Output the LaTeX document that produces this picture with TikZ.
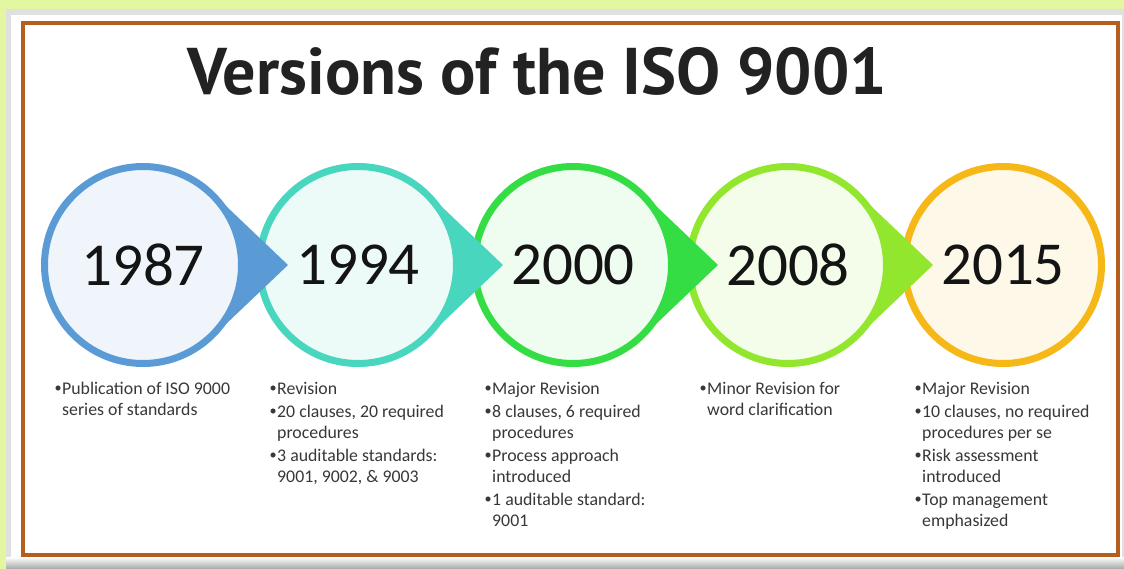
\documentclass[tikz,border=0pt]{standalone}
\usepackage{fontspec}
\setmainfont{Carlito}
\newfontfamily\titlefont{PT Sans}
\usepackage{tikz}
\usepackage{xcolor}
\usetikzlibrary{calc}
\definecolor{bgyellow}{HTML}{E3F6A2}
\definecolor{framebrown}{HTML}{B45F1E}
\definecolor{titlegray}{HTML}{222222}
\definecolor{highlightcolora}{HTML}{5B9BD5}
\definecolor{highlightcolorb}{HTML}{48D6BE}
\definecolor{highlightcolorc}{HTML}{34DD44}
\definecolor{highlightcolord}{HTML}{92E72E}
\definecolor{highlightcolore}{HTML}{F5B817}
\colorlet{washedcolora}{highlightcolora!10!white}
\colorlet{washedcolorb}{highlightcolorb!10!white}
\colorlet{washedcolorc}{highlightcolorc!8!white}
\colorlet{washedcolord}{highlightcolord!10!white}
\colorlet{washedcolore}{highlightcolore!10!white}
\tikzstyle{yearcircle} = [
    circle,
    line width=7pt,
    minimum size=197pt,
    inner sep=0pt,
    text=black!92,
    font=\fontsize{61}{61}\selectfont
    ]
\tikzstyle{notes} = [
    anchor=base west,
    inner sep=0pt,
    text=black!78,
    font=\fontsize{17.8}{21}\selectfont
    ]
\newcommand{\isoitem}[1]{\par\noindent\hangindent=8pt\hangafter=1%
    \makebox[8pt][l]{\hspace{0.5pt}\raisebox{1.3pt}{\scalebox{0.8}{\textbullet}}}#1\par\vspace{2pt}}

\begin{document}
\begin{tikzpicture}[x=1pt,y=-1pt]
\useasboundingbox (0,0) rectangle (1124,569);
% page and frame
\fill[bgyellow] (0,0) rectangle (1124,569);
\fill[black!12] (6,9) rectangle (1124,569);
\fill[white] (11,15) rectangle (1122,557);
\shade[top color=white, bottom color=black!35] (6,557) rectangle (1124,569);
\draw[framebrown, line width=4pt] (23,23) rectangle (1118,554.5);

\node[titlegray, font=\titlefont\bfseries\fontsize{66}{66}\selectfont,
    anchor=base] (title) at (537.5,95) {Versions of the ISO 9001};

% circles, right to left so each pointer lies over the next circle
\node[yearcircle, draw=highlightcolore, fill=washedcolore] (c2015) at (1003,265) {2015};

\node[yearcircle, draw=highlightcolord, fill=washedcolord] (c2008) at (788,265) {2008};
\coordinate (t2008) at (933,265);
\fill[highlightcolord] (c2008.center) ++(-46.4:100) arc[start angle=-46.4, end angle=46.4, radius=100] -- (t2008) -- cycle;

\node[yearcircle, draw=highlightcolorc, fill=washedcolorc] (c2000) at (573,265) {2000};
\coordinate (t2000) at (718,265);
\fill[highlightcolorc] (c2000.center) ++(-46.4:100) arc[start angle=-46.4, end angle=46.4, radius=100] -- (t2000) -- cycle;

\node[yearcircle, draw=highlightcolorb, fill=washedcolorb] (c1994) at (358,265) {1994};
\coordinate (t1994) at (503,265);
\fill[highlightcolorb] (c1994.center) ++(-46.4:100) arc[start angle=-46.4, end angle=46.4, radius=100] -- (t1994) -- cycle;

\node[yearcircle, draw=highlightcolora, fill=washedcolora] (c1987) at (143,265) {1987};
\coordinate (t1987) at (288,265);
\fill[highlightcolora] (c1987.center) ++(-46.4:100) arc[start angle=-46.4, end angle=46.4, radius=100] -- (t1987) -- cycle;

% notes under the circles
\node[notes] (n1987) at (54,394) {%
    \begin{minipage}[t]{200pt}\raggedright
    \isoitem{Publication of ISO 9000\newline series of standards}
    \end{minipage}
};
\node[notes] (n1994) at (269,394) {%
    \begin{minipage}[t]{200pt}\raggedright
    \isoitem{Revision}
    \isoitem{20 clauses, 20 required\newline procedures}
    \isoitem{3 auditable standards:\newline 9001, 9002, \& 9003}
    \end{minipage}
};
\node[notes] (n2000) at (484,394) {%
    \begin{minipage}[t]{200pt}\raggedright
    \isoitem{Major Revision}
    \isoitem{8 clauses, 6 required\newline procedures}
    \isoitem{Process approach\newline introduced}
    \isoitem{1 auditable standard:\newline 9001}
    \end{minipage}
};
\node[notes] (n2008) at (699,394) {%
    \begin{minipage}[t]{200pt}\raggedright
    \isoitem{Minor Revision for\newline word clarification}
    \end{minipage}
};
\node[notes] (n2015) at (914,394) {%
    \begin{minipage}[t]{200pt}\raggedright
    \isoitem{Major Revision}
    \isoitem{10 clauses, no required\newline procedures per se}
    \isoitem{Risk assessment\newline introduced}
    \isoitem{Top management\newline emphasized}
    \end{minipage}
};
\end{tikzpicture}
\end{document}
